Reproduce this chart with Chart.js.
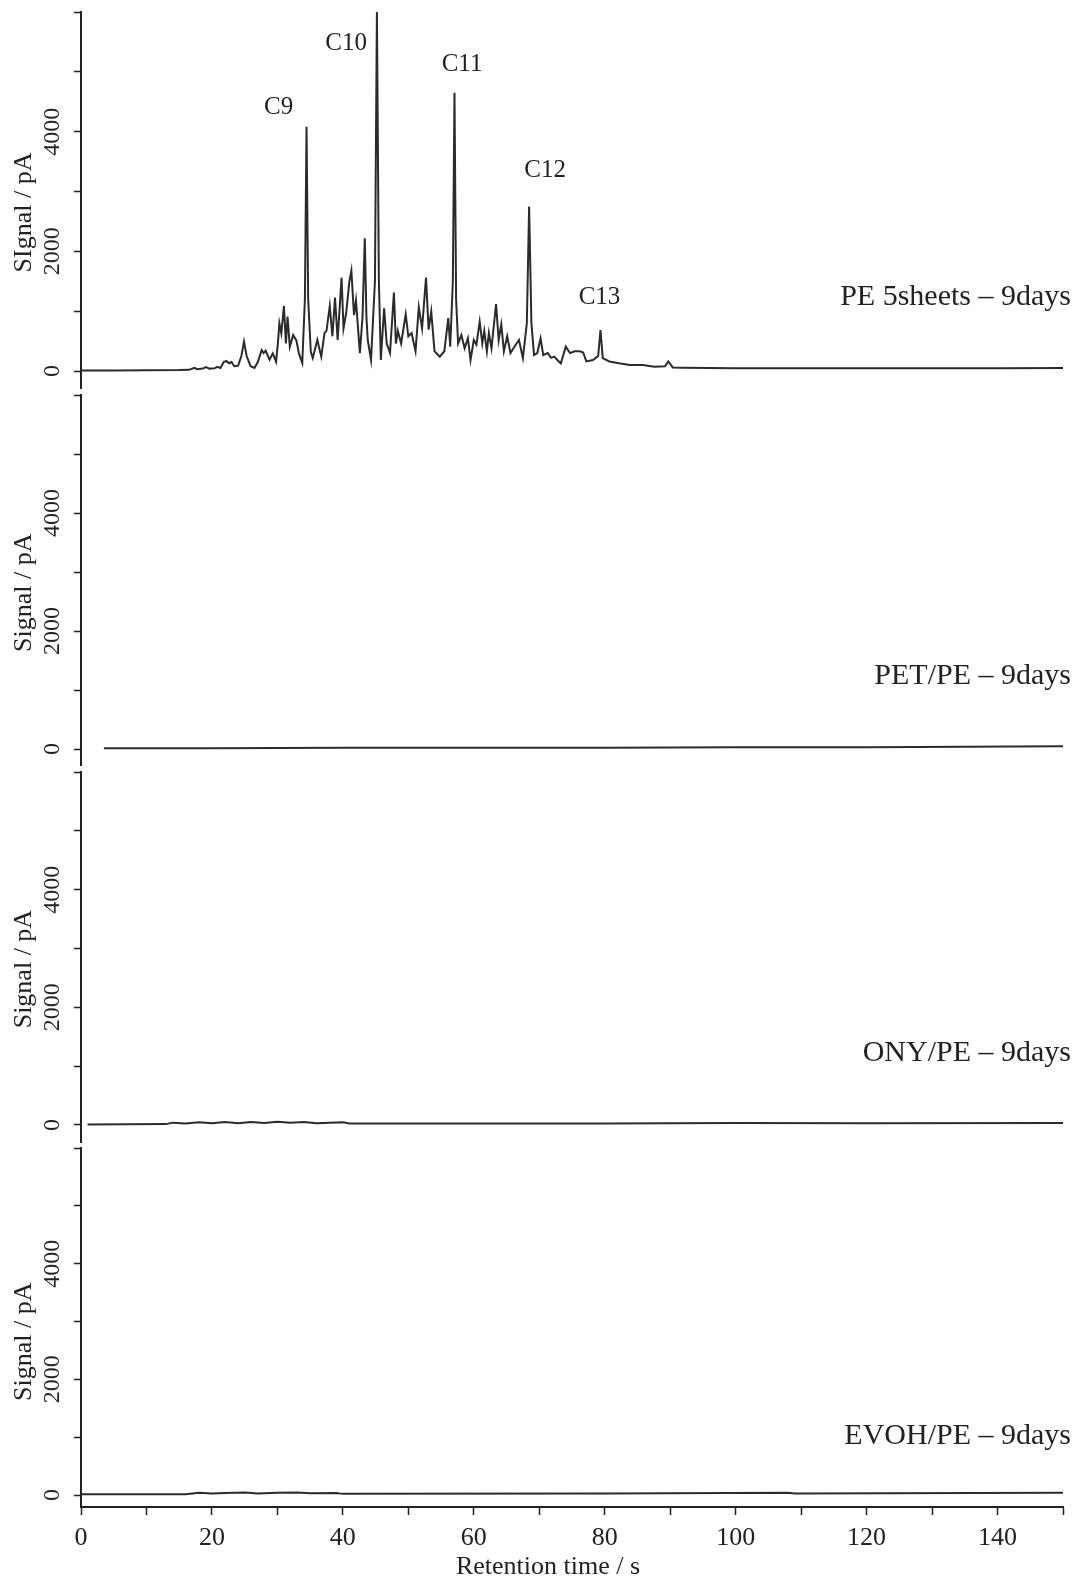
<!DOCTYPE html>
<html>
<head>
<meta charset="utf-8">
<style>
html, body { margin: 0; padding: 0; background: #fff; }
#wrap { position: relative; width: 1079px; height: 1581px; }
#wrap canvas { position: absolute; left: 0; top: 0; }
</style>
<script src="https://cdn.jsdelivr.net/npm/chart.js"></script>
</head>
<body>
<div id="wrap">
  <canvas id="p1" width="1079" height="1581"></canvas>
  <canvas id="p2" width="1079" height="1581"></canvas>
  <canvas id="p3" width="1079" height="1581"></canvas>
  <canvas id="p4" width="1079" height="1581"></canvas>
</div>
<script>
// retention time (s) / signal (pA)
const peTime = [0, 5, 10, 15, 16.5, 17.3, 17.8, 18.6, 19.1, 19.6, 20.4, 20.8, 21.3, 21.8, 22.2, 22.6, 23.0, 23.4, 24.0, 24.5,
  24.9, 25.3, 25.9, 26.5, 27.0, 27.6, 27.9, 28.2, 28.8, 29.3, 29.8, 30.1, 30.3, 30.6, 31.0, 31.3, 31.55, 31.9, 32.4, 32.9,
  33.3, 33.8, 34.2, 34.45, 34.7, 35.1, 35.4, 36.1, 36.7, 37.2, 37.5, 38.0, 38.4, 38.8, 39.2, 39.8, 40.1, 40.5, 41.0, 41.3,
  41.7, 42.0, 42.6, 43.0, 43.35, 43.6, 43.8, 44.3, 44.9, 45.2, 45.5, 45.8, 46.3, 46.7, 47.2, 47.8, 48.1, 48.4, 48.9, 49.6,
  50.0, 50.5, 51.1, 51.6, 52.1, 52.7, 53.1, 53.5, 54.0, 54.8, 55.5, 56.1, 56.4, 56.8, 57.05, 57.3, 57.6, 58.1, 58.6, 59.1,
  59.5, 60.0, 60.4, 60.9, 61.3, 61.6, 62.0, 62.3, 62.7, 63.4, 63.8, 64.2, 64.6, 65.1, 65.6, 66.2, 66.9, 67.5, 68.1, 68.45,
  68.8, 69.2, 69.7, 70.2, 70.6, 71.3, 71.8, 72.3, 72.8, 73.3, 74.05, 74.7, 75.4, 76.2, 76.7, 77.2, 78.2, 79.0, 79.35, 79.7,
  80.7, 82.2, 83.8, 85.8, 87.6, 89.2, 89.7, 90.4, 92, 100, 110, 120, 130, 140, 150];
const peSignal = [10, 10, 12, 15, 20, 55, 30, 40, 65, 40, 45, 70, 50, 150, 167, 130, 150, 80, 90, 250,
  490, 250, 80, 50, 150, 350, 300, 340, 190, 295, 155, 500, 797, 630, 1087, 460, 908, 405, 600, 510,
  290, 135, 1200, 4080, 1200, 323, 217, 518, 240, 635, 670, 1087, 580, 1226, 518, 1560, 714, 965, 1500, 1677,
  936, 1180, 300, 900, 2220, 900, 518, 184, 1500, 6000, 1500, 184, 1048, 460, 300, 1310, 460, 670, 460, 948,
  580, 636, 330, 1065, 714, 1560, 690, 992, 330, 240, 330, 886, 405, 1500, 4650, 1200, 460, 600, 380, 550,
  184, 518, 440, 825, 460, 670, 330, 636, 380, 1120, 518, 780, 330, 580, 300, 405, 518, 217, 800, 2750,
  800, 268, 300, 547, 268, 300, 220, 240, 180, 128, 407, 300, 330, 330, 310, 160, 184, 250, 686, 217,
  160, 128, 100, 100, 70, 80, 160, 60, 55, 45, 45, 45, 48, 48, 50];

const petTime = [3.5, 20, 40, 60, 80, 100, 120, 150];
const petSignal = [15, 15, 20, 20, 20, 30, 30, 45];

const onyTime = [1, 13, 14, 16, 18, 20, 22, 24, 26, 28, 30, 32, 34, 36, 40, 41, 60, 80, 100, 120, 150];
const onySignal = [10, 15, 40, 25, 45, 30, 50, 30, 50, 35, 55, 40, 50, 30, 45, 25, 25, 25, 35, 30, 35];

const evohTime = [0, 16, 18, 20, 22, 25, 27, 30, 33, 35, 39, 40, 80, 108, 109, 150];
const evohSignal = [15, 15, 40, 25, 35, 45, 25, 40, 45, 30, 35, 20, 25, 40, 25, 40];

const sampleNames = ['PE 5sheets \u2013 9days', 'PET/PE \u2013 9days', 'ONY/PE \u2013 9days', 'EVOH/PE \u2013 9days'];
const yTitles = ['SIgnal / pA', 'Signal / pA', 'Signal / pA', 'Signal / pA'];
const yTicks = [0, 1000, 2000, 3000, 4000, 5000, 6000];
const yLabelled = [0, 2000, 4000];
const xTickLabels = [0, 20, 40, 60, 80, 100, 120, 140];

const peakNames = ['C9', 'C10', 'C11', 'C12', 'C13'];
const peakLabelTime = [30.2, 40.5, 58.2, 70.9, 79.2];
const peakLabelSignal = [4400, 5470, 5120, 3360, 1230];

// layout of the four stacked panels (pixels)
const panelTop = [12, 395, 772, 1148];
const panelBottom = [388, 765, 1142, 1507];
const panelMin = [-284, -271, -289, -207];
const nameAt = [1240, 1240, 1225, 1020];

const series = [[peTime, peSignal], [petTime, petSignal], [onyTime, onySignal], [evohTime, evohSignal]];
const FONT = '"Liberation Serif", "Times New Roman", serif';
const INK = '#222';

Chart.defaults.font.family = FONT;
Chart.defaults.color = INK;

function rotText(ctx, txt, x, y) {
  ctx.save();
  ctx.translate(x, y);
  ctx.rotate(-Math.PI / 2);
  ctx.textAlign = 'center';
  ctx.textBaseline = 'middle';
  ctx.fillText(txt, 0, 0);
  ctx.restore();
}

const textPlugin = {
  id: 'panelText',
  afterDraw(chart, args, opts) {
    const ctx = chart.ctx;
    const ys = chart.scales.y, xs = chart.scales.x;
    const i = opts.index;
    ctx.save();
    ctx.fillStyle = INK;
    ctx.font = '24px ' + FONT;
    yLabelled.forEach(v => rotText(ctx, String(v), 53, ys.getPixelForValue(v)));
    ctx.font = '26px ' + FONT;
    rotText(ctx, yTitles[i], 24, ys.getPixelForValue(2650));
    ctx.font = '30px ' + FONT;
    ctx.textAlign = 'right';
    ctx.textBaseline = 'middle';
    ctx.fillText(sampleNames[i], chart.chartArea.right + 8, ys.getPixelForValue(nameAt[i]));
    if (i === 0) {
      ctx.font = '25px ' + FONT;
      ctx.textAlign = 'center';
      peakNames.forEach((n, k) => {
        ctx.fillText(n, xs.getPixelForValue(peakLabelTime[k]), ys.getPixelForValue(peakLabelSignal[k]));
      });
    }
    if (i === 3) {
      ctx.font = '26px ' + FONT;
      ctx.textAlign = 'center';
      ctx.fillText('Retention time / s', 548, 1567);
    }
    ctx.restore();
  }
};

function drawPanel(i) {
  const [t, s] = series[i];
  const last = i === 3;
  const xScale = {
    type: 'linear', min: 0, max: 150,
    display: last,
    ticks: {
      stepSize: 10, autoSkip: false, maxRotation: 0, padding: 8,
      font: { size: 26 },
      callback: v => xTickLabels.includes(v) ? String(v) : ''
    },
    grid: { drawOnChartArea: false, tickLength: 8, tickColor: INK, tickWidth: 1.5 },
    border: { color: INK, width: 2 }
  };
  if (last) xScale.afterFit = sc => { sc.height = 1581 - 1507; };
  new Chart(document.getElementById('p' + (i + 1)), {
    type: 'line',
    data: {
      datasets: [{
        data: t.map((x, k) => ({ x: x, y: s[k] })),
        borderColor: '#2b2b2b',
        borderWidth: 2,
        pointRadius: 0,
        tension: 0,
        fill: false
      }]
    },
    options: {
      responsive: false,
      animation: false,
      devicePixelRatio: 1,
      layout: { padding: { top: panelTop[i], bottom: last ? 0 : 1581 - panelBottom[i], left: 0, right: 16 } },
      plugins: { legend: { display: false }, tooltip: { enabled: false }, panelText: { index: i } },
      scales: {
        x: xScale,
        y: {
          type: 'linear', min: panelMin[i], max: 6000,
          afterBuildTicks: sc => { sc.ticks = yTicks.map(v => ({ value: v })); },
          afterFit: sc => { sc.width = 81; },
          ticks: { display: false },
          grid: { drawOnChartArea: false, tickLength: 7, tickColor: INK, tickWidth: 1.5 },
          border: { color: INK, width: 2 }
        }
      }
    },
    plugins: [textPlugin]
  });
}

for (let i = 0; i < 4; i++) drawPanel(i);
</script>
</body>
</html>
